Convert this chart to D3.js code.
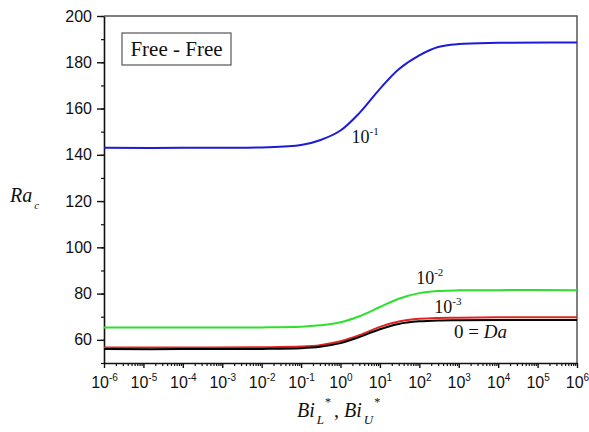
<!DOCTYPE html>
<html>
<head>
<meta charset="utf-8">
<script src="https://cdn.jsdelivr.net/npm/d3@7"></script>
<style>
  body { margin: 0; background: #fff; }
  svg { display: block; }
  .tick text { font-family: "Liberation Sans", Arial, sans-serif; fill: #111; }
  .serif { font-family: "Liberation Serif", "Times New Roman", serif; fill: #111; }
</style>
</head>
<body>
<div id="chart"></div>
<script>
// Biot number sample points (shared by all curves)
const biValues = [1e-6, 1e-4, 1e-2, 1e-1, 0.3, 1, 3, 10, 30, 100, 300, 1e3, 1e4, 1e6];

// Ra_c, one array per Darcy number
const raDa1e1 = [143, 143, 143.2, 144.2, 146.3, 150.5, 158, 168.5, 177, 183, 186.6, 187.9, 188.4, 188.5];
const raDa1e2 = [65.3, 65.3, 65.4, 65.7, 66.3, 67.6, 70.2, 74.2, 77.8, 80.2, 81.1, 81.4, 81.5, 81.5];
const raDa1e3 = [56.7, 56.7, 56.8, 57.1, 57.7, 59.4, 62.0, 65.6, 67.9, 69.1, 69.5, 69.6, 69.8, 69.8];
const raDa0   = [56.0, 56.0, 56.1, 56.4, 57.0, 58.6, 61.2, 64.6, 66.9, 68.0, 68.4, 68.5, 68.6, 68.6];

const seriesColors = ["#1c1cd6", "#2ee02e", "#e02424", "#000000"];

// curve labels: [base, superscript, Bi, Ra] anchored in data units
const curveLabels = [
  ["10", "-1", 1.9, 144.9],
  ["10", "-2", 83, 84.3],
  ["10", "-3", 240, 71.8]
];
const daLabel = { bi: 760, ra: 61 };

const xExponents = d3.range(-6, 7);
const yTicks = [60, 80, 100, 120, 140, 160, 180, 200];

const width = 589, height = 432;
const margin = { top: 16, right: 12, bottom: 69, left: 104 };

const x = d3.scaleLog()
  .domain([1e-6, 1e6])
  .range([margin.left, width - margin.right]);

const y = d3.scaleLinear()
  .domain([50, 200])
  .range([height - margin.bottom, margin.top]);

const svg = d3.select('#chart').append('svg')
  .attr('width', width)
  .attr('height', height);

// frame (top and right)
svg.append('path')
  .attr('d', `M${margin.left},${margin.top}H${width - margin.right}V${height - margin.bottom}`)
  .attr('fill', 'none')
  .attr('stroke', '#555')
  .attr('stroke-width', 1.5);

// minor x ticks
const minorX = [];
xExponents.slice(0, -1).forEach(e => {
  for (let k = 2; k < 10; k++) minorX.push(k * Math.pow(10, e));
});

svg.append('g')
  .attr('transform', `translate(0, ${height - margin.bottom})`)
  .call(d3.axisBottom(x).tickValues(minorX).tickSize(3).tickFormat(''))
  .call(g => g.select('.domain').remove())
  .call(g => g.selectAll('line').attr('stroke', '#111').attr('stroke-width', 1.2));

const xAxis = svg.append('g')
  .attr('transform', `translate(0, ${height - margin.bottom})`)
  .call(d3.axisBottom(x)
    .tickValues(xExponents.map(e => Math.pow(10, e)))
    .tickSize(5)
    .tickSizeOuter(0)
    .tickFormat(''));

xAxis.select('.domain').attr('stroke', '#111').attr('stroke-width', 1.6);
xAxis.selectAll('line').attr('stroke', '#111').attr('stroke-width', 1.4);

xAxis.selectAll('.tick').each(function(d, i) {
  const t = d3.select(this).append('text')
    .attr('y', 25)
    .attr('text-anchor', 'middle')
    .attr('font-size', 16);
  t.append('tspan').text('10');
  t.append('tspan')
    .attr('dy', -7)
    .attr('font-size', 10)
    .text(xExponents[i]);
});

// y axis: minor ticks every 10
svg.append('g')
  .attr('transform', `translate(${margin.left}, 0)`)
  .call(d3.axisLeft(y).tickValues(d3.range(50, 201, 10)).tickSize(3).tickFormat(''))
  .call(g => g.select('.domain').remove())
  .call(g => g.selectAll('line').attr('stroke', '#111').attr('stroke-width', 1.2));

const yAxis = svg.append('g')
  .attr('transform', `translate(${margin.left}, 0)`)
  .call(d3.axisLeft(y).tickValues(yTicks).tickSize(7).tickSizeOuter(0).tickPadding(5));

yAxis.select('.domain').attr('stroke', '#111').attr('stroke-width', 1.6);
yAxis.selectAll('line').attr('stroke', '#111').attr('stroke-width', 1.4);
yAxis.selectAll('text').attr('font-size', 16);

// curves
const line = d3.line()
  .x(d => x(d[0]))
  .y(d => y(d[1]))
  .curve(d3.curveCatmullRom.alpha(0.5));

[raDa1e1, raDa1e2, raDa1e3, raDa0].forEach((vals, i) => {
  svg.append('path')
    .datum(biValues.map((b, j) => [b, vals[j]]))
    .attr('fill', 'none')
    .attr('stroke', seriesColors[i])
    .attr('stroke-width', 2)
    .attr('d', line);
});

// curve labels
curveLabels.forEach(([base, sup, bi, ra]) => {
  const t = svg.append('text')
    .attr('class', 'serif')
    .attr('x', x(bi))
    .attr('y', y(ra))
    .attr('font-size', 18);
  t.append('tspan').text(base);
  t.append('tspan').attr('dy', -8).attr('font-size', 11).text(sup);
});

const da = svg.append('text')
  .attr('class', 'serif')
  .attr('x', x(daLabel.bi))
  .attr('y', y(daLabel.ra))
  .attr('font-size', 19);
da.append('tspan').text('0 = ');
da.append('tspan').attr('font-style', 'italic').text('Da');

// Free - Free box
const box = svg.append('g')
  .attr('transform', `translate(${margin.left + 18}, ${margin.top + 17})`);
box.append('rect')
  .attr('width', 109)
  .attr('height', 32)
  .attr('fill', '#fff')
  .attr('stroke', '#555')
  .attr('stroke-width', 1.2);
box.append('text')
  .attr('class', 'serif')
  .attr('x', 54.5)
  .attr('y', 23)
  .attr('text-anchor', 'middle')
  .attr('font-size', 21)
  .text('Free - Free');

// y axis title
const yt = svg.append('text')
  .attr('class', 'serif')
  .attr('x', 10)
  .attr('y', 202)
  .attr('font-size', 20)
  .attr('font-style', 'italic');
yt.append('tspan').text('Ra');
yt.append('tspan').attr('dy', 7).attr('dx', 2).attr('font-size', 11).text('c');

// x axis title
const xt = svg.append('text')
  .attr('class', 'serif')
  .attr('x', 297)
  .attr('y', 417)
  .attr('font-size', 20)
  .attr('font-style', 'italic');
xt.append('tspan').text('Bi');
xt.append('tspan').attr('dy', 7).attr('dx', 2).attr('font-size', 13).text('L');
xt.append('tspan').attr('dy', -18).attr('dx', 1).attr('font-size', 12).attr('font-style', 'normal').text('*');
xt.append('tspan').attr('dy', 11).attr('dx', 3).attr('font-style', 'normal').text(', ');
xt.append('tspan').text('Bi');
xt.append('tspan').attr('dy', 7).attr('dx', 2).attr('font-size', 13).text('U');
xt.append('tspan').attr('dy', -18).attr('dx', 1).attr('font-size', 12).attr('font-style', 'normal').text('*');
</script>
</body>
</html>
